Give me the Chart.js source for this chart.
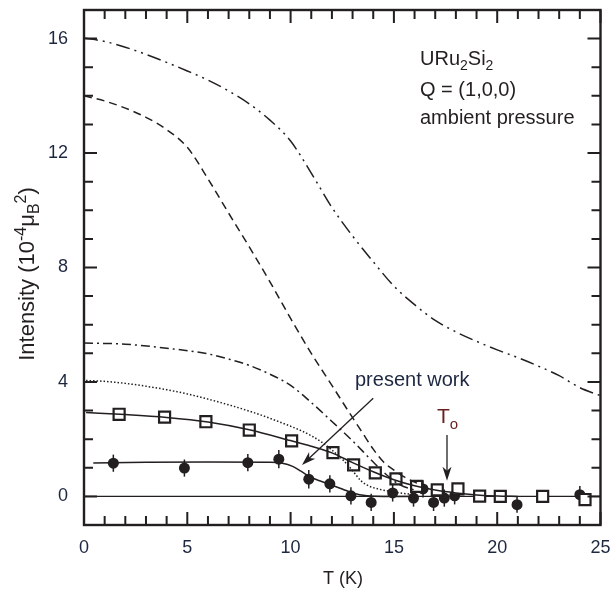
<!DOCTYPE html>
<html>
<head>
<meta charset="utf-8">
<script src="https://cdn.jsdelivr.net/npm/chart.js@4.4.1/dist/chart.umd.min.js"></script>
<style>
  html, body { margin: 0; padding: 0; background: #fff; }
</style>
</head>
<body>
<canvas id="c" width="614" height="592"></canvas>
<script>
// axis ticks
const xTicks = [0, 5, 10, 15, 20, 25];
const yTicks = [0, 4, 8, 12, 16];

// open squares
const sqT = [1.7, 3.9, 5.9, 8.0, 10.05, 12.05, 13.05, 14.1, 15.1, 16.1, 17.1, 18.1, 19.15, 20.15, 22.2, 24.25];
const sqI = [2.87, 2.77, 2.61, 2.32, 1.94, 1.53, 1.1, 0.82, 0.61, 0.35, 0.23, 0.26, 0.01, 0.0, 0.0, -0.11];

// filled circles (present work) with error bars
const circT = [1.42, 4.86, 7.93, 9.43, 10.88, 11.9, 12.92, 13.9, 14.94, 15.95, 16.41, 16.92, 17.44, 17.94, 20.96, 24.0];
const circI = [1.16, 0.99, 1.18, 1.30, 0.60, 0.44, 0.02, -0.21, 0.12, -0.06, 0.26, -0.21, -0.06, 0.02, -0.29, 0.06];
const circErr = [0.3, 0.3, 0.3, 0.32, 0.32, 0.3, 0.3, 0.3, 0.3, 0.3, 0.3, 0.3, 0.3, 0.3, 0.28, 0.3];

// solid fit through squares
const sqFitT = [0.1, 2, 4, 6, 8, 10, 11, 12, 13, 14, 15, 16, 17, 18, 19, 20, 21];
const sqFitI = [2.93, 2.86, 2.76, 2.6, 2.33, 1.95, 1.75, 1.52, 1.18, 0.86, 0.58, 0.37, 0.22, 0.12, 0.05, 0.01, 0];

// solid fit through circles
const cFitT = [0.45, 3, 6, 9, 9.6, 10.1, 10.5, 11, 11.5, 12, 12.5, 13, 13.7, 14.5, 16];
const cFitI = [1.17, 1.19, 1.2, 1.19, 1.16, 1.05, 0.88, 0.66, 0.52, 0.39, 0.26, 0.12, 0.02, 0.0, 0];

// dotted curve
const dotT = [0.1, 1, 2, 3, 4, 5, 6, 7, 8, 9, 10, 10.5, 11, 11.5, 12, 12.5, 13, 13.4, 13.8, 14.3, 15, 16];
const dotI = [4.05, 4.02, 3.95, 3.85, 3.73, 3.58, 3.4, 3.2, 2.98, 2.73, 2.45, 2.3, 2.12, 1.9, 1.62, 1.3, 0.9, 0.55, 0.36, 0.25, 0.15, 0.06];

// dash-dot curve (lower)
const ddT = [0, 2, 4, 6, 7, 8, 9, 10, 11, 12, 13, 14, 14.7, 15.3, 16];
const ddI = [5.36, 5.32, 5.18, 4.98, 4.8, 4.58, 4.27, 3.88, 3.28, 2.62, 1.94, 1.2, 0.72, 0.4, 0.22];

// dashed curve
const dsT = [0, 1, 2, 3, 4, 5, 6, 7, 8, 9, 10, 11, 12, 13, 13.5, 14, 14.5, 15, 15.5, 16, 16.4];
const dsI = [14.0, 13.82, 13.57, 13.25, 12.82, 12.2, 11.1, 9.9, 8.72, 7.5, 6.22, 5.0, 3.88, 2.75, 2.2, 1.65, 1.2, 0.92, 0.68, 0.5, 0.38];

// dash-dot-dot curve (top)
const dddT = [0, 1, 2, 3, 4, 5, 6, 7, 8, 9, 10, 11, 12, 13, 14, 15, 16, 17, 18, 19, 20, 21, 22, 23, 24, 25];
const dddI = [16.02, 15.9, 15.7, 15.45, 15.17, 14.87, 14.55, 14.17, 13.72, 13.15, 12.42, 11.3, 10.1, 9.1, 8.2, 7.35, 6.7, 6.15, 5.75, 5.42, 5.12, 4.85, 4.55, 4.22, 3.8, 3.52];

const ink = '#231f20';
const font = 'Liberation Sans, Arial, Helvetica, sans-serif';

function pts(xs, ys) {
  return xs.map((v, i) => ({ x: v, y: ys[i] }));
}

function curve(xs, ys, dash) {
  return {
    data: pts(xs, ys),
    showLine: true,
    pointRadius: 0,
    borderColor: ink,
    borderWidth: 1.5,
    borderDash: dash,
    cubicInterpolationMode: 'monotone',
    fill: false
  };
}

// draw text made of pieces with different sizes / offsets
function richText(ctx, parts, x, y, align) {
  let w = 0;
  parts.forEach(p => {
    ctx.font = p[1] + 'px ' + font;
    w += ctx.measureText(p[0]).width;
  });
  let cx = align === 'center' ? x - w / 2 : x;
  parts.forEach(p => {
    ctx.font = p[1] + 'px ' + font;
    ctx.fillText(p[0], cx, y + p[2]);
    cx += ctx.measureText(p[0]).width;
  });
}

function arrow(ctx, x0, y0, x1, y1) {
  const ang = Math.atan2(y1 - y0, x1 - x0);
  const len = 14, hw = 4.5;
  ctx.beginPath();
  ctx.moveTo(x0, y0);
  ctx.lineTo(x1 - Math.cos(ang) * 8, y1 - Math.sin(ang) * 8);
  ctx.stroke();
  ctx.save();
  ctx.translate(x1, y1);
  ctx.rotate(ang);
  ctx.beginPath();
  ctx.moveTo(0, 0);
  ctx.lineTo(-len, -hw);
  ctx.lineTo(-len + 4, 0);
  ctx.lineTo(-len, hw);
  ctx.closePath();
  ctx.fill();
  ctx.restore();
}

const decor = {
  id: 'decor',
  beforeDatasetsDraw(chart) {
    const { ctx, chartArea: a, scales: { x, y } } = chart;
    ctx.save();
    // zero line
    ctx.strokeStyle = ink;
    ctx.lineWidth = 1.3;
    ctx.beginPath();
    ctx.moveTo(a.left, y.getPixelForValue(0));
    ctx.lineTo(a.right, y.getPixelForValue(0));
    ctx.stroke();
    // error bars
    ctx.lineWidth = 1.5;
    circT.forEach((t, i) => {
      const px = x.getPixelForValue(t);
      ctx.beginPath();
      ctx.moveTo(px, y.getPixelForValue(circI[i] - circErr[i]));
      ctx.lineTo(px, y.getPixelForValue(circI[i] + circErr[i]));
      ctx.stroke();
    });
    ctx.restore();
  },
  afterDraw(chart) {
    const { ctx, chartArea: a, scales: { x, y } } = chart;
    ctx.save();
    ctx.strokeStyle = ink;
    ctx.fillStyle = ink;
    ctx.lineWidth = 2;
    // inward ticks on all four sides
    for (let v = 0; v <= 25; v++) {
      const px = x.getPixelForValue(v);
      const L = v % 5 === 0 ? 13 : 9;
      ctx.beginPath();
      ctx.moveTo(px, a.bottom); ctx.lineTo(px, a.bottom - L);
      ctx.moveTo(px, a.top); ctx.lineTo(px, a.top + L);
      ctx.stroke();
    }
    for (let v = -1; v <= 17; v++) {
      const py = y.getPixelForValue(v);
      const L = v % 4 === 0 ? 13 : 9;
      ctx.beginPath();
      ctx.moveTo(a.left, py); ctx.lineTo(a.left + L, py);
      ctx.moveTo(a.right, py); ctx.lineTo(a.right - L, py);
      ctx.stroke();
    }
    ctx.lineWidth = 2.4;
    ctx.strokeRect(a.left, a.top, a.right - a.left, a.bottom - a.top);

    // arrows
    ctx.lineWidth = 1.3;
    arrow(ctx, x.getPixelForValue(14.0), y.getPixelForValue(3.43),
               x.getPixelForValue(10.55), y.getPixelForValue(1.1));
    arrow(ctx, x.getPixelForValue(17.57), y.getPixelForValue(2.15),
               x.getPixelForValue(17.57), y.getPixelForValue(0.55));

    // labels
    ctx.textBaseline = 'alphabetic';
    ctx.fillStyle = ink;
    richText(ctx, [['URu', 20, 0], ['2', 14, 5], ['Si', 20, 0], ['2', 14, 5]], 420, 65);
    richText(ctx, [['Q = (1,0,0)', 20, 0]], 420, 96);
    richText(ctx, [['ambient pressure', 20, 0]], 420, 124);
    ctx.fillStyle = '#1d2740';
    richText(ctx, [['present work', 20, 0]], 355, 386);
    ctx.fillStyle = '#6a1e1e';
    richText(ctx, [['T', 21, 0], ['o', 15, 6]], 437, 423);

    // axis titles
    ctx.fillStyle = ink;
    richText(ctx, [['T (K)', 18, 0]], 343, 584, 'center');
    ctx.translate(34, 274);
    ctx.rotate(-Math.PI / 2);
    richText(ctx, [['Intensity (10', 22, 0], ['-4', 16, -8], ['\u03bc', 22, 0], ['B', 16, 5], ['2', 16, -8], [')', 22, 0]], 0, 0, 'center');
    ctx.restore();
  }
};

new Chart(document.getElementById('c'), {
  type: 'scatter',
  data: {
    datasets: [
      curve(dddT, dddI, [14, 5, 2, 5, 2, 5]),
      curve(dsT, dsI, [8, 5]),
      curve(ddT, ddI, [9, 4, 2, 4]),
      curve(dotT, dotI, [1.5, 2]),
      curve(sqFitT, sqFitI, []),
      curve(cFitT, cFitI, []),
      {
        data: pts(sqT, sqI),
        pointStyle: 'rect',
        pointRadius: 7.8,
        pointBackgroundColor: '#fff',
        pointBorderColor: ink,
        pointBorderWidth: 2.2,
        showLine: false
      },
      {
        data: pts(circT, circI),
        pointStyle: 'circle',
        pointRadius: 5.5,
        pointBackgroundColor: ink,
        pointBorderColor: ink,
        pointBorderWidth: 0,
        showLine: false
      }
    ]
  },
  options: {
    responsive: false,
    animation: false,
    events: [],
    layout: { padding: { top: 8, right: 13.5, left: 0, bottom: 0 } },
    plugins: { legend: { display: false }, tooltip: { enabled: false } },
    scales: {
      x: {
        type: 'linear',
        min: 0,
        max: 25,
        grid: { display: false, drawTicks: false },
        border: { display: false },
        afterBuildTicks: s => { s.ticks = xTicks.map(v => ({ value: v })); },
        afterFit: s => { s.height = 67; s.paddingLeft = 0; s.paddingRight = 0; },
        ticks: { color: '#1d2740', font: { family: font, size: 18 }, padding: 12, maxRotation: 0 }
      },
      y: {
        type: 'linear',
        min: -1,
        max: 17,
        grid: { display: false, drawTicks: false },
        border: { display: false },
        afterBuildTicks: s => { s.ticks = yTicks.map(v => ({ value: v })); },
        afterFit: s => { s.width = 84; s.paddingTop = 0; s.paddingBottom = 0; },
        ticks: { color: '#1d2740', font: { family: font, size: 18 }, padding: 16 }
      }
    }
  },
  plugins: [decor]
});
</script>
</body>
</html>
